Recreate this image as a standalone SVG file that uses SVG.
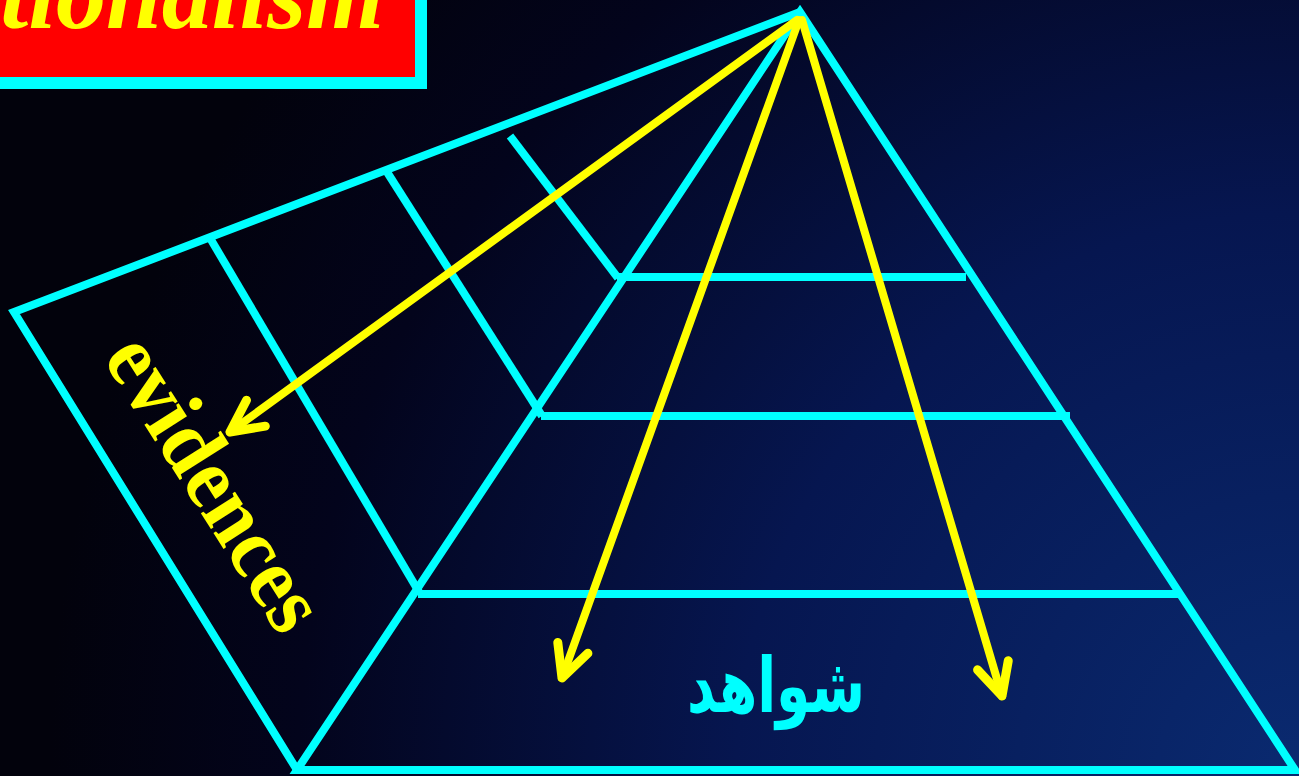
<svg xmlns="http://www.w3.org/2000/svg" width="1299" height="776" viewBox="0 0 1299 776">
<defs>
<radialGradient id="bg" cx="1299" cy="776" r="1250" gradientUnits="userSpaceOnUse">
<stop offset="0" stop-color="#0a2a70"/>
<stop offset="0.45" stop-color="#061650"/>
<stop offset="0.8" stop-color="#03041c"/>
<stop offset="1" stop-color="#02020c"/>
</radialGradient>
<marker id="ah" markerUnits="userSpaceOnUse" viewBox="-45 -25 55 50" refX="0" refY="0" markerWidth="55" markerHeight="50" orient="auto" overflow="visible">
<path d="M -32,-16 L 0,0 L -32,16" fill="none" stroke="#ffff00" stroke-width="9" stroke-linecap="round" stroke-linejoin="round"/>
</marker>
</defs>
<style>
.cy{stroke:#00ffff;stroke-width:8;fill:none;stroke-linecap:butt}
.ye{stroke:#ffff00;stroke-width:8;fill:none;stroke-linecap:round;marker-end:url(#ah)}
.title{font-family:"Liberation Serif","Times New Roman",serif;font-weight:bold;font-style:italic;font-size:100px;fill:#ffff00}
.ev{font-family:"Liberation Serif","Times New Roman",serif;font-weight:bold;font-size:88px;fill:#ffff00}
.fa{font-family:"DejaVu Sans",sans-serif;font-weight:bold;font-size:76px;fill:#00ffff}
</style>
<rect x="0" y="0" width="1299" height="776" fill="url(#bg)"/>
<g id="title-box">
<rect x="-20" y="-20" width="441" height="103" fill="#ff0000" stroke="#00ffff" stroke-width="12"/>
<text class="title" x="384" y="28" text-anchor="end">tionalism</text>
</g>
<g id="pyramid-front">
<path class="cy" d="M800,12 L1295,770 L297,770 Z"/>
<line class="cy" x1="617" y1="277" x2="966" y2="277"/>
<line class="cy" x1="541" y1="416" x2="1070" y2="416"/>
<line class="cy" x1="418" y1="594" x2="1178" y2="594"/>
</g>
<g id="side-face">
<path class="cy" d="M800,12 L14,312 L297,770"/>
<line class="cy" x1="510" y1="136" x2="618" y2="278"/>
<line class="cy" x1="387" y1="172" x2="542" y2="416"/>
<line class="cy" x1="210" y1="238" x2="419" y2="592"/>
</g>
<g id="connectors">
<line class="ye" x1="797" y1="20" x2="230" y2="432"/>
<line class="ye" x1="799" y1="20" x2="562" y2="678"/>
<line class="ye" x1="802" y1="20" x2="1002" y2="696"/>
</g>
<g id="label-evidences">
<text class="ev" transform="translate(102,358) rotate(57.5)" textLength="332" lengthAdjust="spacingAndGlyphs">evidences</text>
</g>
<g id="label-shawahed">
<text class="fa" x="776" y="712" text-anchor="middle" direction="rtl" textLength="178" lengthAdjust="spacingAndGlyphs">شواهد</text>
</g>
</svg>
